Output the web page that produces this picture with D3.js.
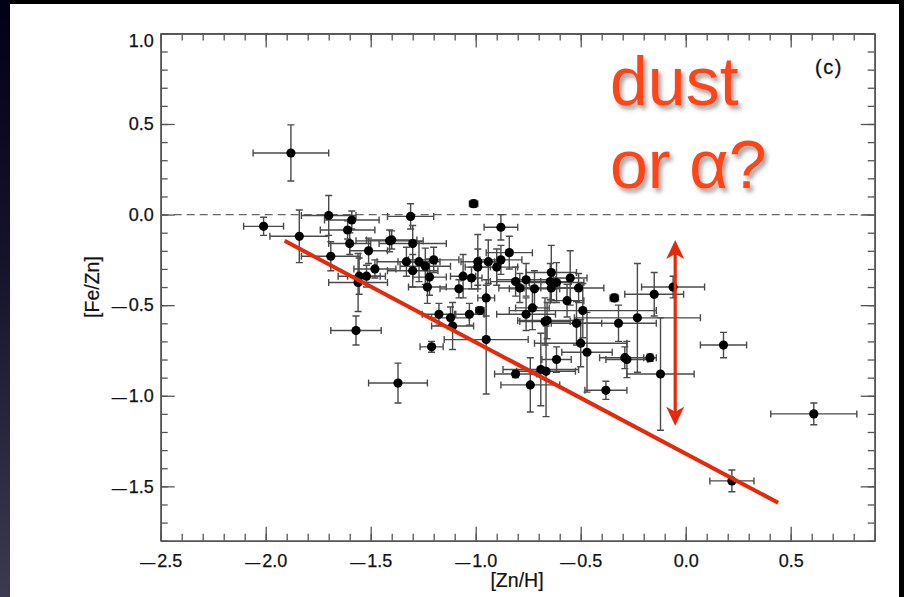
<!DOCTYPE html>
<html>
<head>
<meta charset="utf-8">
<script src="https://cdn.jsdelivr.net/npm/d3@7"></script>
<style>
  html, body { margin: 0; padding: 0; background: #000; }
  svg { display: block; }
</style>
</head>
<body>
<svg id="chart" width="904" height="597"></svg>
<script>
// [Zn/H] vs [Fe/Zn] abundance measurements with 1-sigma errors
const znH   = [-2.01, -1.88, -1.84, -1.70, -1.69, -1.59, -1.61, -1.60, -1.56, -1.555, -1.52, -1.48, -1.51, -1.41, -1.40, -1.57, -1.37,
               -1.31, -1.30, -1.33, -1.30, -1.27, -1.24, -1.22, -1.20, -1.23, -1.175, -1.12, -1.11, -1.03, -0.98, -1.21,
               -1.08, -1.06, -1.02, -0.99, -0.99, -0.94, -0.95, -0.95, -0.90, -0.88, -0.84, -0.88, -1.01,
               -0.81, -0.79, -0.76, -0.72, -0.73, -0.76, -0.81, -0.74,
               -0.64, -0.645, -0.615, -0.64, -0.55, -0.51, -0.565, -0.49, -0.67, -0.66, -0.52, -0.50, -0.47, -0.615, -0.69, -0.665,
               -0.38, -0.34, -0.32, -0.23, -0.29, -0.28, -0.17, -0.15, -0.06, -0.12, 0.18, 0.61, 0.22];
const feZn  = [-0.065, 0.34, -0.12, -0.005, -0.23, -0.03, -0.085, -0.16, -0.375, -0.34, -0.34, -0.30, -0.20, -0.145, -0.14, -0.64, -0.93,
               -0.01, -0.16, -0.26, -0.31, -0.26, -0.285, -0.345, -0.25, -0.40, -0.55, -0.57, -0.615, -0.55, -0.53, -0.73,
               -0.41, -0.34, -0.35, -0.26, -0.29, -0.26, -0.46, -0.69, -0.29, -0.25, -0.21, -0.07, 0.06,
               -0.37, -0.405, -0.36, -0.41, -0.515, -0.55, -0.88, -0.94,
               -0.32, -0.37, -0.375, -0.405, -0.35, -0.405, -0.475, -0.53, -0.59, -0.585, -0.60, -0.71, -0.76, -0.80, -0.855, -0.865,
               -0.97, -0.46, -0.60, -0.57, -0.79, -0.80, -0.79, -0.44, -0.40, -0.88, -0.72, -1.10, -1.47];
const znHErr = [0.095, 0.18, 0.14, 0.13, 0.14, 0.13, 0.13, 0.10, 0.14, 0.10, 0.09, 0.10, 0.09, 0.16, 0.12, 0.12, 0.14,
                0.11, 0.16, 0.14, 0.12, 0.10, 0.12, 0.08, 0.12, 0.09, 0.08, 0.09, 0.10, 0.07, 0.02, 0.055,
                0.09, 0.06, 0.05, 0.08, 0.06, 0.06, 0.04, 0.20, 0.10, 0.10, 0.11, 0.08, 0.02,
                0.12, 0.10, 0.14, 0.12, 0.08, 0.14, 0.10, 0.14,
                0.12, 0.10, 0.13, 0.13, 0.08, 0.12, 0.08, 0.35, 0.12, 0.14, 0.12, 0.22, 0.12, 0.07, 0.18, 0.14,
                0.10, 0.02, 0.18, 0.30, 0.12, 0.10, 0.03, 0.14, 0.15, 0.16, 0.11, 0.205, 0.105];
const feZnErr = [0.05, 0.155, 0.145, 0.11, 0.08, 0.05, 0.05, 0.06, 0.16, 0.10, 0.06, 0.05, 0.07, 0.06, 0.05, 0.08, 0.11,
                 0.07, 0.10, 0.08, 0.09, 0.11, 0.10, 0.10, 0.07, 0.09, 0.06, 0.06, 0.13, 0.06, 0.02, 0.03,
                 0.05, 0.12, 0.06, 0.15, 0.10, 0.12, 0.10, 0.30, 0.10, 0.08, 0.09, 0.07, 0.02,
                 0.08, 0.08, 0.09, 0.10, 0.12, 0.09, 0.02, 0.15,
                 0.15, 0.10, 0.11, 0.08, 0.15, 0.08, 0.09, 0.15, 0.13, 0.10, 0.12, 0.13, 0.22, 0.07, 0.20, 0.25,
                 0.05, 0.02, 0.10, 0.30, 0.06, 0.10, 0.02, 0.12, 0.06, 0.31, 0.07, 0.06, 0.06];

// overlaid trend line and spread arrow, in data units
const trendX = [-1.91, 0.44];
const trendY = [-0.145, -1.59];
const arrowX = -0.05;
const arrowY = [-0.14, -1.165];

// axis ticks
const xMajor = [-2.5, -2.0, -1.5, -1.0, -0.5, 0.0, 0.5];
const yMajor = [1.0, 0.5, 0.0, -0.5, -1.0, -1.5];
const xMinor = d3.range(-25, 10).map(v => v / 10);
const yMinor = d3.range(-18, 11).map(v => v / 10);

const svg = d3.select("#chart");
const W = 904, H = 597;
const FONT = "'Liberation Sans', Arial, Helvetica, sans-serif";

// slide background: dark frame with a navy gradient strip on the left
const defs = svg.append("defs");
const grad = defs.append("linearGradient").attr("id", "leftStrip")
  .attr("x1", 0).attr("y1", 0).attr("x2", 0).attr("y2", 1);
grad.append("stop").attr("offset", 0).attr("stop-color", "#010016");
grad.append("stop").attr("offset", 0.45).attr("stop-color", "#15142c");
grad.append("stop").attr("offset", 1).attr("stop-color", "#3b3a50");
svg.append("rect").attr("width", W).attr("height", H).attr("fill", "#000");
svg.append("rect").attr("x", 0).attr("y", 0).attr("width", 10).attr("height", H).attr("fill", "url(#leftStrip)");
svg.append("rect").attr("x", 10).attr("y", 4).attr("width", 889).attr("height", H - 4).attr("fill", "#fff");

const shadow = defs.append("filter").attr("id", "txtShadow")
  .attr("x", "-10%").attr("y", "-10%").attr("width", "130%").attr("height", "140%");
shadow.append("feDropShadow").attr("dx", 3).attr("dy", 4).attr("stdDeviation", 2.2)
  .attr("flood-color", "#555").attr("flood-opacity", 0.55);

const L = 160.7, R = 874.7, T = 33.4, B = 540.7;
const x = d3.scaleLinear().domain([-2.5, 0.9]).range([L, R]);
const y = d3.scaleLinear().domain([-1.8, 1.0]).range([B, T]);

const axisColor = "#555";

// tick labels use a long dash for the minus sign
function labelTicks(sel) {
  sel.selectAll(".tick text").each(function (d) {
    const t = d3.select(this).text("");
    if (d < 0) {
      t.append("tspan").style("font-size", "15px").text("\u2014");
      t.append("tspan").attr("dx", 2).text(Math.abs(d).toFixed(1));
    } else {
      t.append("tspan").text(d.toFixed(1));
    }
  });
}

function styleAxis(g) {
  g.selectAll("path.domain").attr("stroke", axisColor).attr("stroke-width", 1.6);
  g.selectAll(".tick line").attr("stroke", axisColor).attr("stroke-width", 1.3);
  g.selectAll("text").attr("fill", "#111").attr("stroke", "#111").attr("stroke-width", 0.25)
    .style("font-family", FONT).style("font-size", "18px");
}

// minor ticks on all four sides
svg.append("g").attr("transform", `translate(0,${B})`)
  .call(d3.axisBottom(x).tickValues(xMinor).tickSize(-7).tickSizeOuter(0).tickFormat(""))
  .call(styleAxis);
svg.append("g").attr("transform", `translate(0,${T})`)
  .call(d3.axisTop(x).tickValues(xMinor).tickSize(-7).tickSizeOuter(0).tickFormat(""))
  .call(styleAxis);
svg.append("g").attr("transform", `translate(${L},0)`)
  .call(d3.axisLeft(y).tickValues(yMinor).tickSize(-7).tickSizeOuter(0).tickFormat(""))
  .call(styleAxis);
svg.append("g").attr("transform", `translate(${R},0)`)
  .call(d3.axisRight(y).tickValues(yMinor).tickSize(-7).tickSizeOuter(0).tickFormat(""))
  .call(styleAxis);

// major ticks and labels
svg.append("g").attr("transform", `translate(0,${B})`)
  .call(d3.axisBottom(x).tickValues(xMajor).tickSize(-14).tickSizeOuter(0).tickPadding(14).tickFormat(d3.format(".1f")))
  .call(styleAxis).call(labelTicks);
svg.append("g").attr("transform", `translate(0,${T})`)
  .call(d3.axisTop(x).tickValues(xMajor).tickSize(-14).tickSizeOuter(0).tickFormat(""))
  .call(styleAxis);
const yAx = svg.append("g").attr("transform", `translate(${L},0)`)
  .call(d3.axisLeft(y).tickValues(yMajor).tickSize(-14).tickSizeOuter(0).tickPadding(7).tickFormat(d3.format(".1f")))
  .call(styleAxis).call(labelTicks);
yAx.selectAll(".tick").filter(d => d === 1.0).select("text").attr("dy", "0.74em");
svg.append("g").attr("transform", `translate(${R},0)`)
  .call(d3.axisRight(y).tickValues(yMajor).tickSize(-14).tickSizeOuter(0).tickFormat(""))
  .call(styleAxis);

// solar ratio reference line
svg.append("line")
  .attr("x1", x(-2.5)).attr("x2", x(0.9)).attr("y1", y(0)).attr("y2", y(0))
  .attr("stroke", "#666").attr("stroke-width", 1.3).attr("stroke-dasharray", "8,5");

// axis titles
svg.append("text").attr("x", 517).attr("y", 587).attr("text-anchor", "middle")
  .style("font-family", FONT).style("font-size", "19.5px").attr("fill", "#111")
  .attr("stroke", "#111").attr("stroke-width", 0.2)
  .text("[Zn/H]");
svg.append("text").attr("transform", "translate(99,287) rotate(-90)").attr("text-anchor", "middle")
  .style("font-family", FONT).style("font-size", "19.5px").attr("fill", "#111")
  .attr("stroke", "#111").attr("stroke-width", 0.2)
  .text("[Fe/Zn]");
svg.append("text").attr("x", 815).attr("y", 74)
  .style("font-family", FONT).style("font-size", "20px").style("letter-spacing", "1.5px")
  .attr("fill", "#111").attr("stroke", "#111").attr("stroke-width", 0.3)
  .text("(c)");

// data with error bars
const pts = znH.map((v, i) => ({ x: v, y: feZn[i], xe: znHErr[i], ye: feZnErr[i] }));
const cap = 3.5;
const eb = svg.append("g").attr("stroke", "#4a4a4a").attr("stroke-width", 1.4).attr("fill", "none");
pts.forEach(p => {
  const cx = x(p.x), cy = y(p.y);
  const x0 = x(p.x - p.xe), x1 = x(p.x + p.xe);
  const y0 = y(p.y + p.ye), y1 = y(p.y - p.ye);
  eb.append("path").attr("d",
    `M${x0},${cy}H${x1}M${x0},${cy - cap}V${cy + cap}M${x1},${cy - cap}V${cy + cap}` +
    `M${cx},${y0}V${y1}M${cx - cap},${y0}H${cx + cap}M${cx - cap},${y1}H${cx + cap}`);
});
svg.append("g").selectAll("circle").data(pts).join("circle")
  .attr("cx", d => x(d.x)).attr("cy", d => y(d.y)).attr("r", 4.6).attr("fill", "#000");

// trend line
const red = "#e42a0a";
svg.append("line")
  .attr("x1", x(trendX[0])).attr("y1", y(trendY[0]))
  .attr("x2", x(trendX[1])).attr("y2", y(trendY[1]))
  .attr("stroke", red).attr("stroke-width", 4);

// double-headed arrow
const ax = x(arrowX), ayTop = y(arrowY[0]), ayBot = y(arrowY[1]);
const headL = 19, headW = 9, notch = 5;
svg.append("line").attr("x1", ax).attr("x2", ax).attr("y1", ayTop + 10).attr("y2", ayBot - 10)
  .attr("stroke", red).attr("stroke-width", 3.2);
svg.append("path").attr("fill", red)
  .attr("d", `M${ax},${ayTop}L${ax + headW},${ayTop + headL}L${ax},${ayTop + headL - notch}L${ax - headW},${ayTop + headL}Z`);
svg.append("path").attr("fill", red)
  .attr("d", `M${ax},${ayBot}L${ax + headW},${ayBot - headL}L${ax},${ayBot - headL + notch}L${ax - headW},${ayBot - headL}Z`);

// annotation
const ann = svg.append("g").attr("filter", "url(#txtShadow)")
  .style("font-family", FONT).style("font-size", "68px")
  .attr("fill", "#ff4514");
ann.append("text").attr("x", 610).attr("y", 105).text("dust");
ann.append("text").attr("x", 610).attr("y", 188).text("or \u03b1?");
</script>
</body>
</html>
